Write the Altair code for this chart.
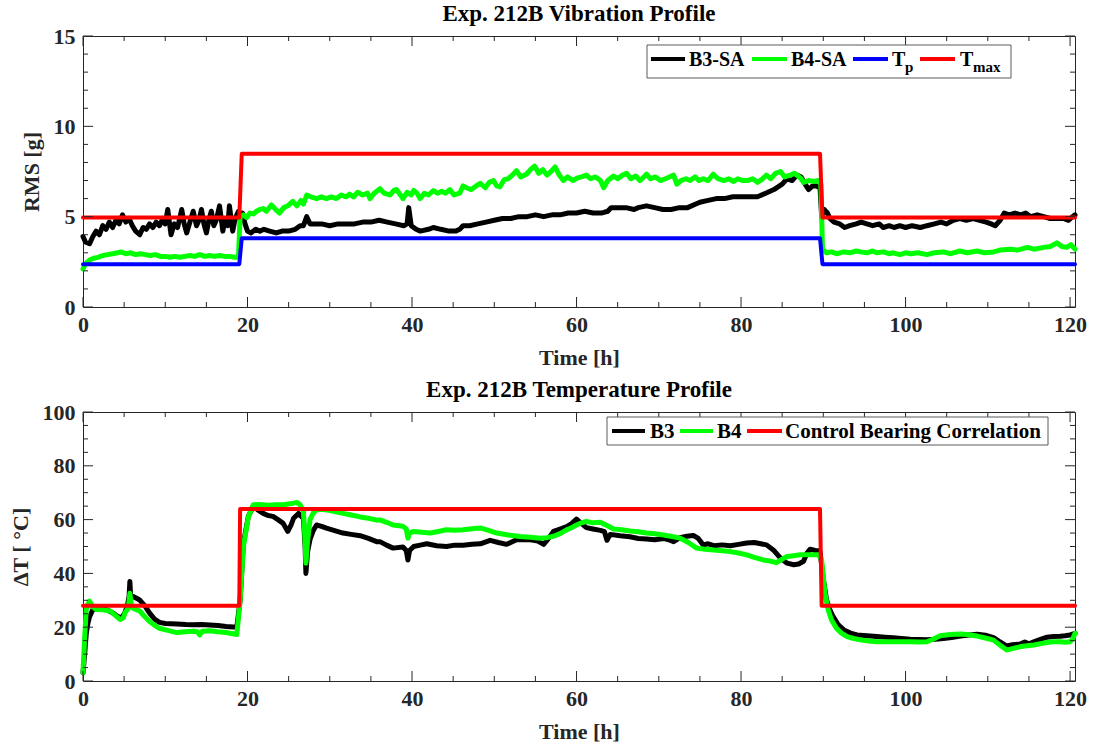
import altair as alt
import pandas as pd

FONT = "Liberation Serif"
INK = "#262626"
W = 992
H_TOP = 271
H_BOT = 269
T_MAX = 120.6

# ---------------- Vibration profile (RMS [g]) ----------------
b3sa_t = [0.0, 0.3, 0.8, 1.2, 1.6, 2.0, 2.4, 2.8, 3.2, 3.6, 4.0, 4.4, 4.8, 5.2, 5.6, 6.0, 6.4, 6.9, 7.3, 7.7,
          8.1, 8.5, 8.9, 9.3, 9.7, 10.0, 10.3, 10.7, 11.1, 11.5, 12.0, 12.3, 12.6, 13.0, 13.4, 13.8, 14.1, 14.4,
          14.7, 15.0, 15.3, 15.6, 15.9, 16.2, 16.6, 17.0, 17.3, 17.6, 17.8, 18.2, 18.5, 18.9, 19.1, 19.4, 19.7,
          20.0, 20.4, 21.0, 21.5, 22.0, 22.7, 23.5, 24.2, 25.0, 25.8, 26.4, 26.8, 27.2, 27.6, 28.0, 29.0, 30.0,
          31.0, 32.0, 33.0, 34.0, 35.0, 36.0, 37.0, 38.0, 39.0, 39.4, 39.6, 39.9, 40.5, 41.0, 42.0, 42.6, 43.5,
          44.5, 45.3, 45.8, 46.2, 47.0, 48.0, 49.0, 50.0, 51.0, 52.0, 53.0, 54.0, 55.0, 56.0, 57.0, 58.0, 59.0,
          60.0, 61.0, 62.0, 63.0, 63.8, 64.2, 65.0, 66.0, 67.0, 67.5, 68.5, 69.5, 70.5, 71.5, 72.5, 73.5, 74.5,
          75.0, 76.0, 77.0, 78.0, 79.0, 80.0, 81.0, 82.0, 83.0, 84.0, 85.0, 85.6, 86.2, 86.8, 87.3, 87.8, 88.2,
          88.7, 89.2, 89.6, 89.8, 90.1, 90.5, 90.8, 91.3, 92.0, 92.6, 93.2, 94.0, 94.6, 95.3, 96.0, 96.8, 97.3,
          98.0, 98.6, 99.3, 100.0, 100.8, 101.8, 102.6, 103.5, 104.3, 105.0, 105.8, 106.6, 107.4, 108.2, 109.0,
          109.8, 110.4, 110.9, 111.5, 112.0, 112.6, 113.3, 114.0, 114.6, 115.2, 116.0, 116.8, 117.6, 118.4,
          119.2, 119.8, 120.3, 120.6]
b3sa_v = [3.9, 3.6, 3.5, 3.9, 4.2, 4.0, 4.5, 4.3, 4.7, 4.4, 4.8, 4.6, 5.1, 4.7, 4.9, 4.5, 4.2, 4.0, 4.4, 4.3,
          4.6, 4.4, 4.7, 4.5, 4.9, 4.6, 5.4, 4.0, 4.6, 4.4, 5.4, 4.6, 4.1, 4.7, 5.3, 4.5, 4.8, 5.4,
          4.6, 4.1, 4.8, 5.3, 4.5, 4.8, 5.6, 4.2, 4.9, 4.5, 5.6, 4.2, 4.9, 5.3, 4.8, 5.2, 4.6,
          4.2, 4.1, 4.3, 4.2, 4.3, 4.2, 4.1, 4.2, 4.2, 4.3, 4.5, 4.5, 5.0, 4.6, 4.6, 4.6, 4.5,
          4.6, 4.6, 4.6, 4.7, 4.7, 4.8, 4.7, 4.6, 4.5, 4.6, 5.5, 4.5, 4.3, 4.2, 4.3, 4.4, 4.3,
          4.2, 4.2, 4.3, 4.5, 4.5, 4.6, 4.7, 4.8, 4.9, 4.9, 5.0, 5.0, 5.1, 5.0, 5.1, 5.1, 5.2,
          5.2, 5.3, 5.2, 5.2, 5.3, 5.5, 5.5, 5.5, 5.4, 5.5, 5.6, 5.5, 5.4, 5.4, 5.5, 5.5, 5.7,
          5.8, 5.9, 6.0, 6.0, 6.1, 6.1, 6.1, 6.1, 6.3, 6.5, 6.8, 7.1, 7.0, 7.3, 7.2, 6.8, 6.5,
          6.7, 6.7, 6.6, 5.0, 5.4, 5.2, 4.9, 4.7, 4.6, 4.4, 4.5, 4.6, 4.7, 4.6, 4.5, 4.6, 4.4,
          4.5, 4.4, 4.5, 4.4, 4.5, 4.4, 4.5, 4.6, 4.7, 4.6, 4.8, 4.9, 4.8, 4.9, 4.8,
          4.7, 4.6, 4.5, 4.8, 5.2, 5.1, 5.2, 5.1, 5.2, 5.0, 5.1, 5.0, 4.9, 4.9,
          4.9, 4.8, 5.0, 5.1]

b4sa_t = [0.0, 0.3, 0.8, 1.3, 1.8, 2.4, 3.0, 3.6, 4.2, 4.6, 5.2, 5.8, 6.4, 7.0, 7.6, 8.2, 8.8, 9.4, 10.0, 10.6,
          11.2, 11.8, 12.4, 13.0, 13.6, 14.2, 14.8, 15.4, 16.0, 16.6, 17.2, 17.8, 18.4, 18.9, 19.1, 19.5, 19.9,
          20.3, 20.7, 21.1, 21.5, 21.9, 22.3, 22.9, 23.4, 23.9, 24.4, 24.9, 25.5, 26.0, 26.5, 26.8, 27.2, 27.7,
          28.4, 29.0, 29.6, 30.2, 30.8, 31.4, 32.0, 32.4, 32.9, 33.4, 34.0, 34.6, 34.9, 35.4, 36.1, 36.6, 37.3,
          37.8, 38.1, 38.6, 38.9, 39.4, 39.9, 40.2, 40.6, 41.0, 41.5, 42.0, 42.6, 43.1, 43.6, 44.1, 44.6, 45.1,
          45.8, 46.2, 46.6, 47.2, 47.8, 48.3, 48.9, 49.4, 49.9, 50.3, 50.7, 51.2, 51.7, 52.2, 52.7, 53.2, 53.9,
          54.4, 54.9, 55.4, 55.9, 56.4, 56.9, 57.4, 57.9, 58.4, 58.9, 59.6, 60.1, 60.6, 61.2, 61.7, 62.3, 62.9,
          63.3, 63.8, 64.5, 65.0, 65.6, 66.1, 66.6, 67.2, 67.7, 68.2, 68.5, 69.0, 69.6, 70.2, 70.8, 71.3, 71.8,
          72.2, 72.7, 73.3, 73.8, 74.4, 74.9, 75.4, 76.0, 76.6, 77.2, 77.9, 78.5, 79.1, 79.6, 80.2, 80.8, 81.4,
          82.0, 82.5, 83.1, 83.6, 84.2, 84.8, 85.3, 86.0, 86.5, 86.8, 87.3, 87.6, 88.2, 88.8, 89.4, 89.7, 89.9,
          90.4, 91.0, 91.6, 92.5, 93.2, 94.0, 94.5, 95.3, 96.0, 96.5, 97.3, 98.0, 98.5, 99.3, 100.0, 100.6,
          101.5, 102.6, 103.5, 104.6, 105.5, 106.6, 107.5, 108.7, 109.6, 110.7, 111.5, 112.7, 113.6, 114.8,
          115.6, 116.8, 117.6, 118.4, 119.0, 119.6, 120.1, 120.6]
b4sa_v = [2.1, 2.4, 2.6, 2.7, 2.75, 2.85, 2.9, 2.95, 3.0, 3.05, 2.95, 3.0, 2.9, 2.95, 2.9, 2.85, 2.9, 2.8, 2.8, 2.75,
          2.8, 2.75, 2.8, 2.85, 2.8, 2.9, 2.8, 2.85, 2.8, 2.85, 2.8, 2.8, 2.75, 2.75, 5.0, 5.1, 4.95,
          5.2, 5.15, 5.3, 5.4, 5.45, 5.3, 5.65, 5.4, 5.2, 5.5, 5.6, 5.85, 5.6, 5.9, 5.7, 6.2, 6.1,
          6.0, 6.1, 6.0, 6.1, 6.0, 6.2, 6.1, 6.25, 6.1, 6.35, 6.2, 6.3, 6.0, 6.3, 6.55, 6.3, 6.2,
          6.45, 6.5, 6.2, 6.0, 6.35, 6.2, 6.45, 6.3, 6.0, 6.3, 6.2, 6.45, 6.3, 6.4, 6.3, 6.5, 6.2,
          6.3, 6.7, 6.6, 6.5, 6.7, 6.85, 6.6, 6.9, 7.0, 6.7, 6.65, 7.05, 7.1, 7.3, 7.55, 7.2, 7.35,
          7.6, 7.8, 7.4, 7.6, 7.3, 7.5, 7.75, 7.3, 7.0, 7.2, 7.0, 7.15, 7.2, 7.3, 7.1, 7.2, 7.0,
          6.6, 7.0, 7.25, 7.1, 7.3, 7.4, 7.1, 7.25, 7.0, 7.2, 7.35, 7.1, 7.2, 7.0, 7.1, 7.2, 7.3,
          6.8, 7.0, 7.1, 7.0, 7.2, 7.0, 7.1, 7.0, 7.35, 7.1, 7.0, 7.1, 6.95, 7.1, 7.0, 7.0, 7.1,
          6.9, 7.05, 7.3, 7.1, 7.4, 7.5, 7.2, 7.3, 7.4, 7.3, 7.1, 6.9, 7.0, 6.95, 7.0, 6.8, 3.2,
          3.0, 3.05, 2.95, 3.05, 3.0, 3.1, 3.05, 3.0, 3.1, 3.0, 3.05, 2.95, 3.0, 2.9, 3.0, 2.95,
          3.0, 2.9, 3.0, 3.05, 2.95, 3.1, 3.0, 3.1, 3.0, 3.05, 3.15, 3.2, 3.15, 3.3,
          3.2, 3.3, 3.35, 3.55, 3.35, 3.3, 3.45, 3.2]

tp_t = [0.0, 19.0, 19.3, 89.6, 89.9, 120.6]
tp_v = [2.37, 2.37, 3.81, 3.81, 2.37, 2.37]
tmax_t = [0.0, 19.0, 19.3, 89.6, 89.9, 120.6]
tmax_v = [4.95, 4.95, 8.48, 8.48, 4.95, 4.95]

# ---------------- Temperature profile (delta T) ----------------
b3_t = [0.0, 0.2, 0.4, 0.6, 0.8, 1.2, 1.8, 2.4, 3.0, 3.7, 4.2, 4.7, 5.1, 5.4, 5.6, 5.7, 5.8, 6.1, 6.9, 7.5,
        8.1, 8.7, 9.3, 10.0, 11.4, 12.5, 13.4, 14.4, 15.4, 16.4, 17.4, 18.7, 19.1, 19.5, 20.1, 20.7, 21.3,
        21.9, 22.5, 23.1, 23.7, 24.3, 24.9, 25.3, 25.6, 26.2, 26.8, 27.0, 27.1, 27.3, 27.6, 28.0, 28.4, 29.0,
        29.6, 30.5, 31.6, 32.6, 33.7, 34.7, 35.7, 36.1, 36.9, 37.7, 38.9, 39.3, 39.5, 39.7, 40.2, 41.0, 41.8,
        43.0, 44.2, 45.2, 46.2, 47.3, 48.3, 49.5, 50.5, 51.5, 52.7, 53.6, 54.4, 55.3, 56.0, 56.6, 57.2, 58.0,
        58.8, 59.4, 60.0, 60.6, 61.2, 62.0, 62.9, 63.4, 63.7, 64.1, 65.3, 66.5, 67.5, 68.5, 69.5, 70.6, 71.2,
        71.8, 72.6, 73.4, 74.2, 74.8, 75.4, 76.0, 76.7, 77.7, 78.7, 79.7, 80.7, 81.6, 82.4, 83.1, 84.0, 84.8,
        85.6, 86.4, 87.0, 87.6, 88.0, 88.4, 89.0, 89.4, 89.6, 90.0, 90.4, 90.8, 91.2, 91.8, 92.5, 93.3, 94.1,
        95.3, 96.5, 97.5, 98.5, 99.5, 100.6, 101.6, 102.6, 103.6, 104.6, 105.6, 106.7, 107.7, 108.7, 109.7,
        110.7, 111.5, 112.3, 113.0, 114.0, 114.5, 115.0, 115.6, 116.4, 117.2, 118.0, 118.8, 119.4, 120.0, 120.6]
b3_v = [3.0, 10.0, 17.7, 21.5, 23.9, 26.6, 27.0, 27.0, 26.3, 25.2, 24.0, 23.4, 25.5, 28.0, 31.5, 37.0, 31.0, 31.4, 30.1, 28.0,
        25.2, 23.0, 21.8, 21.4, 21.2, 21.0, 20.9, 21.0, 20.8, 20.6, 20.3, 20.0, 30.0, 51.2, 61.2, 64.9, 63.5,
        62.3, 61.5, 61.2, 60.0, 58.7, 55.6, 58.0, 60.5, 62.3, 60.4, 50.0, 40.0, 48.0, 52.6, 56.0, 58.0, 57.5,
        56.8, 56.0, 55.0, 54.5, 54.0, 53.0, 51.8, 51.8, 50.5, 49.4, 49.8, 48.5, 45.0, 48.5, 50.0, 50.5, 51.0,
        50.3, 50.0, 50.5, 50.5, 50.8, 51.0, 52.3, 51.5, 50.8, 52.5, 52.5, 52.5, 52.0, 50.8, 53.0, 55.6, 56.5,
        57.4, 58.5, 60.2, 58.5, 57.0, 56.5, 56.0, 55.5, 52.3, 54.5, 54.0, 53.6, 53.0, 52.8, 52.5, 53.0, 52.5,
        51.8, 53.3, 53.8, 54.1, 53.0, 50.6, 51.0, 50.3, 50.6, 50.3, 50.8, 51.3, 51.5, 51.0, 50.6, 48.5, 45.7,
        43.8, 43.2, 43.5, 44.5, 47.5, 49.0, 48.5, 48.4, 48.1, 38.0, 30.1, 26.5, 23.9, 21.0, 19.0, 17.8, 17.1,
        16.8, 16.5, 16.3, 16.1, 15.8, 15.5, 15.4, 15.3, 15.5, 15.8, 16.2, 16.7, 17.1, 17.4, 17.0,
        16.1, 14.5, 13.0, 13.5, 13.8, 14.5, 13.8, 14.6, 15.5, 16.3, 16.5, 16.6, 16.8, 17.1, 17.7]

b4_t = [0.0, 0.2, 0.4, 0.6, 0.8, 1.2, 1.6, 2.4, 3.3, 3.9, 4.5, 4.9, 5.1, 5.5, 5.7, 5.9, 6.1, 6.9, 7.5, 8.1,
        8.7, 9.3, 10.3, 11.4, 12.4, 13.4, 13.9, 14.2, 14.5, 15.4, 16.4, 17.4, 18.7, 19.1, 19.5, 20.1, 20.7,
        21.5, 22.5, 23.5, 24.5, 25.6, 26.0, 26.4, 26.8, 27.0, 27.1, 27.3, 27.6, 28.0, 28.4, 29.0, 29.6, 30.6,
        31.6, 32.6, 33.7, 34.7, 35.7, 36.1, 36.9, 37.7, 38.9, 39.3, 39.5, 39.7, 40.2, 41.2, 42.2, 43.2, 44.2,
        45.2, 46.2, 47.3, 48.3, 49.3, 50.3, 51.7, 53.1, 54.4, 55.6, 56.4, 57.2, 58.0, 58.8, 59.4, 60.0, 60.6,
        61.2, 62.0, 62.9, 63.7, 64.5, 65.5, 66.5, 67.5, 68.5, 69.5, 70.6, 71.6, 72.6, 73.6, 74.6, 75.6, 76.7,
        77.7, 78.7, 79.7, 80.7, 81.7, 82.7, 83.5, 84.3, 85.0, 85.6, 86.4, 87.2, 88.2, 89.4, 89.6, 89.8, 90.2,
        90.6, 91.0, 91.6, 92.2, 92.9, 93.7, 94.5, 95.5, 96.5, 97.5, 98.5, 99.5, 100.6, 101.6, 102.6, 103.4,
        104.2, 105.4, 106.7, 107.7, 108.7, 109.7, 110.7, 111.5, 112.3, 113.2, 114.0, 114.8, 115.6, 116.4,
        117.2, 118.0, 118.8, 119.4, 120.0, 120.3, 120.6]
b4_v = [3.0, 16.0, 26.6, 28.5, 29.7, 27.5, 26.6, 26.5, 26.0, 24.5, 22.9, 23.5, 25.4, 27.0, 32.6, 27.5, 27.0, 26.0, 24.0, 22.1,
        20.7, 19.6, 18.8, 18.0, 18.3, 18.5, 18.3, 17.1, 18.5, 18.7, 18.3, 18.0, 17.3, 30.0, 50.0, 61.0, 65.5,
        65.6, 65.3, 65.5, 65.6, 66.1, 66.4, 65.5, 63.0, 52.0, 43.8, 52.0, 60.0, 62.5, 63.6, 63.8, 63.6, 63.0,
        62.3, 61.7, 61.0, 60.5, 59.8, 59.9, 59.0, 58.0, 57.5, 56.5, 53.1, 55.0, 55.6, 55.3, 55.0, 55.6, 56.2,
        56.0, 56.2, 56.6, 56.9, 56.0, 55.0, 54.3, 53.7, 53.4, 53.1, 53.3, 53.8, 54.8, 56.2, 57.0, 58.0, 58.8,
        59.3, 58.8, 59.0, 57.8, 56.5, 56.2, 55.8, 55.5, 55.0, 54.7, 54.3, 53.7, 53.1, 51.5, 49.4, 49.0, 48.7,
        48.4, 48.1, 47.6, 46.9, 45.9, 45.0, 44.6, 44.0, 45.3, 46.3, 46.6, 46.9, 46.9, 46.9, 46.0, 45.0, 32.6,
        26.4, 22.7, 19.6, 17.8, 16.5, 15.8, 15.3, 14.9, 14.6, 14.6, 14.6, 14.6, 14.6, 14.5, 14.6, 15.6,
        16.8, 17.3, 17.5, 17.2, 16.7, 16.0, 15.2, 13.3, 11.5, 12.2, 12.8, 13.1, 13.4, 13.9,
        14.3, 14.6, 14.6, 14.4, 14.6, 15.5, 17.7]

ctrl_t = [0.0, 19.0, 19.1, 89.6, 89.8, 120.6]
ctrl_v = [28.0, 28.0, 63.9, 63.9, 28.0, 28.0]

# ---------------- Axis ticks ----------------
x_major = [0, 20, 40, 60, 80, 100, 120]
x_minor = [5, 10, 15, 25, 30, 35, 45, 50, 55, 65, 70, 75, 85, 90, 95, 105, 110, 115]
rms_major = [0, 5, 10, 15]
rms_minor = [1, 2, 3, 4, 6, 7, 8, 9, 11, 12, 13, 14]
dt_major = [0, 20, 40, 60, 80, 100]
dt_minor = [5, 10, 15, 25, 30, 35, 45, 50, 55, 65, 70, 75, 85, 90, 95]

AXIS_STYLE = dict(
    labelFont=FONT, labelFontWeight="bold", labelFontSize=22, labelColor=INK,
    titleFont=FONT, titleFontWeight="bold", titleFontSize=22, titleColor=INK,
    ticks=False, domain=False, grid=False, labelFlush=False,
)

x_scale = alt.Scale(domain=[0, T_MAX], nice=False, zero=False)
x_axis = alt.Axis(values=x_major, title="Time [h]", labelPadding=7, titlePadding=12, **AXIS_STYLE)


def panel_layers(series, y_scale, y_axis, y_major, y_minor, h):
    """Data lines plus inward-pointing frame ticks, all sharing one x/y axis definition."""
    def xe():
        return alt.X("t:Q", scale=x_scale, axis=x_axis)

    def ye():
        return alt.Y("v:Q", scale=y_scale, axis=y_axis)

    out = []
    for ts, vs, color, width in series:
        df = pd.DataFrame({"t": ts, "v": vs})
        out.append(alt.Chart(df).mark_line(
            color=color, strokeWidth=width, strokeJoin="round", strokeCap="round"
        ).encode(x=xe(), y=ye()))
    for vals, ln in ((x_major, 10), (x_minor, 5)):
        base = alt.Chart(pd.DataFrame({"t": vals})).mark_rule(color=INK, strokeWidth=1)
        out.append(base.encode(x=xe(), y=alt.value(h), y2=alt.value(h - ln)))
        out.append(base.encode(x=xe(), y=alt.value(0), y2=alt.value(ln)))
    for vals, ln in ((y_major, 10), (y_minor, 5)):
        base = alt.Chart(pd.DataFrame({"v": vals})).mark_rule(color=INK, strokeWidth=1)
        out.append(base.encode(y=ye(), x=alt.value(0), x2=alt.value(ln)))
        out.append(base.encode(y=ye(), x=alt.value(W), x2=alt.value(W - ln)))
    return out


def text_mark(label, x, y, size, color="black"):
    return alt.Chart(pd.DataFrame({"label": [label]})).mark_text(
        font=FONT, fontWeight="bold", fontSize=size, align="left", baseline="alphabetic", color=color
    ).encode(text="label:N", x=alt.value(x), y=alt.value(y))


def swatch(key, color, x0, x1, y):
    return alt.Chart(pd.DataFrame({"key": [key]})).mark_rule(
        color=color, strokeWidth=4
    ).encode(x=alt.value(x0), x2=alt.value(x1), y=alt.value(y))


def legend_box(key, x0, x1, y0, y1):
    return alt.Chart(pd.DataFrame({"key": [key]})).mark_rect(
        fill="white", stroke="#5a5a5a", strokeWidth=1
    ).encode(x=alt.value(x0), x2=alt.value(x1), y=alt.value(y0), y2=alt.value(y1))


def title_params(text):
    return alt.TitleParams(text, font=FONT, fontWeight="bold", fontSize=23, color="black",
                           anchor="middle", offset=-1)


# ---------------- Top panel ----------------
rms_scale = alt.Scale(domain=[0, 15], nice=False)
rms_axis = alt.Axis(values=rms_major, title="RMS [g]", labelPadding=8, titlePadding=10, **AXIS_STYLE)

top_layers = panel_layers(
    [(b3sa_t, b3sa_v, "black", 5), (b4sa_t, b4sa_v, "#00ff00", 5),
     (tp_t, tp_v, "#0000ff", 4), (tmax_t, tmax_v, "#ff0000", 4)],
    rms_scale, rms_axis, rms_major, rms_minor, H_TOP,
) + [
    legend_box("vib", 564, 928, 9, 42),
    swatch("B3-SA", "black", 568, 602, 23),
    text_mark("B3-SA", 606, 30, 20),
    swatch("B4-SA", "#00ff00", 669, 704, 23),
    text_mark("B4-SA", 708, 30, 20),
    swatch("Tp", "#0000ff", 770, 805, 23),
    text_mark("T", 809, 30, 20),
    text_mark("p", 822, 36, 15),
    swatch("Tmax", "#ff0000", 837, 872, 23),
    text_mark("T", 877, 30, 20),
    text_mark("max", 890, 36, 15),
]
top = alt.layer(*top_layers).properties(
    width=W, height=H_TOP, title=title_params("Exp. 212B Vibration Profile")
)

# ---------------- Bottom panel ----------------
dt_scale = alt.Scale(domain=[0, 100], nice=False)
dt_axis = alt.Axis(values=dt_major, title="\u0394T [ \u00b0C]", labelPadding=8, titlePadding=10, **AXIS_STYLE)

bot_layers = panel_layers(
    [(b3_t, b3_v, "black", 5), (b4_t, b4_v, "#00ff00", 5), (ctrl_t, ctrl_v, "#ff0000", 4)],
    dt_scale, dt_axis, dt_major, dt_minor, H_BOT,
) + [
    legend_box("temp", 524, 965, 5, 33),
    swatch("B3", "black", 529, 562, 19),
    text_mark("B3", 567, 26, 21),
    swatch("B4", "#00ff00", 597, 630, 19),
    text_mark("B4", 634, 26, 21),
    swatch("ctrl", "#ff0000", 664, 699, 19),
    text_mark("Control Bearing Correlation", 702, 26, 21),
]
bottom = alt.layer(*bot_layers).properties(
    width=W, height=H_BOT, title=title_params("Exp. 212B Temperature Profile")
)

chart = alt.vconcat(top, bottom, spacing=9).properties(
    padding={"left": 8, "top": 2, "right": 4, "bottom": 2}
).configure_view(stroke=INK, strokeWidth=1)

chart.save("out.html", embed_options={"renderer": "svg", "actions": False})
